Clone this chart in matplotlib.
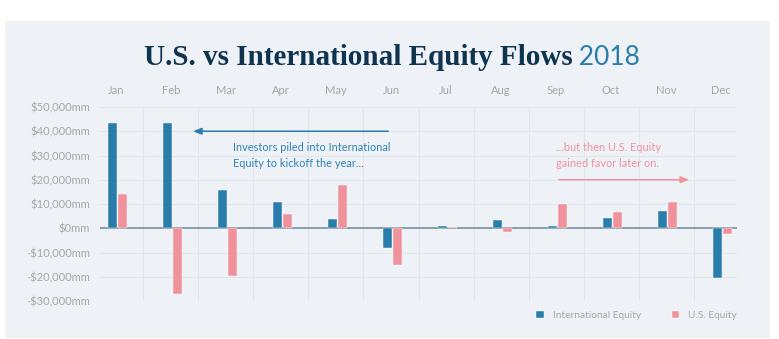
import matplotlib
matplotlib.use("Agg")
import matplotlib.pyplot as plt
import numpy as np
from matplotlib.patches import Rectangle

# Monthly net flows, $mm
months = ["Jan", "Feb", "Mar", "Apr", "May", "Jun", "Jul", "Aug", "Sep", "Oct", "Nov", "Dec"]
intl_equity = [43300, 43300, 15700, 10700, 3700, -8000, 800, 3200, 1000, 4300, 7300, -20600]
us_equity = [14300, -27200, -19500, 5900, 17700, -15000, 700, -1400, 9800, 6600, 10700, -2300]
y_ticks = [50000, 40000, 30000, 20000, 10000, 0, -10000, -20000, -30000]

BLUE = "#2a7dab"
PINK = "#f0929c"
NAVY = "#0f3450"
GRAY = "#a3a7ac"
PANEL = "#eef2f7"
GRID = "#e1e6ec"

fig = plt.figure(figsize=(7.79, 3.39), dpi=100, facecolor="white")
fig.patches.append(Rectangle((5 / 779, 1 / 339), 765 / 779, 317 / 339,
                             transform=fig.transFigure, facecolor=PANEL,
                             edgecolor="none", zorder=-5))

ax = fig.add_axes([100 / 779, 38 / 339, 637 / 779, 194 / 339])
ax.set_facecolor("none")

x = np.arange(len(months))
w = 0.165
ax.bar(x - 0.06, intl_equity, w, color=BLUE, edgecolor="white", linewidth=0.3,
       label="International Equity", zorder=3)
ax.bar(x + 0.12, us_equity, w, color=PINK, edgecolor="white", linewidth=0.3,
       label="U.S. Equity", zorder=3)

ax.set_xlim(-0.29, 11.29)
ax.set_ylim(-30000, 50000)

# grid
for t in y_ticks:
    if t != 0:
        ax.axhline(t, color=GRID, lw=0.8, zorder=1)
for b in x[:-1] + 0.5:
    ax.axvline(b, color=GRID, lw=0.8, zorder=1)
ax.axhline(0, color="#7f97a8", lw=1.3, zorder=2)

for s in ax.spines.values():
    s.set_visible(False)

ax.xaxis.tick_top()
ax.set_xticks(x)
ax.set_xticklabels(months)
ax.set_yticks(y_ticks)
ax.set_yticklabels([("-" if v < 0 else "") + "${:,}mm".format(abs(v)) for v in y_ticks])
ax.tick_params(axis="both", length=0, colors=GRAY, labelsize=8)
ax.tick_params(axis="x", pad=8)
ax.tick_params(axis="y", pad=7)
for lab in ax.get_xticklabels() + ax.get_yticklabels():
    lab.set_family("Lato")

# annotations
ax.annotate("", xy=(1.35, 40000), xytext=(5.0, 40000),
            arrowprops=dict(arrowstyle="-|>,head_length=0.5,head_width=0.2",
                            color=BLUE, lw=1.1), zorder=5)
ax.text(2.12, 25200, "Investors piled into International\nEquity to kickoff the year...",
        color="#2d84b5", fontsize=7.9, family="Lato", va="baseline", ha="left",
        linespacing=1.6)
ax.text(8.0, 25200, "...but then U.S. Equity\ngained favor later on.",
        color=PINK, fontsize=7.9, family="Lato", va="baseline", ha="left", linespacing=1.6)
ax.annotate("", xy=(10.47, 20000), xytext=(8.0, 20000),
            arrowprops=dict(arrowstyle="-|>,head_length=0.5,head_width=0.2",
                            color=PINK, lw=1.1), zorder=5)

leg = ax.legend(loc="upper right", bbox_to_anchor=(1.0, -0.05), ncol=2, frameon=False,
                handlelength=0.75, handleheight=0.75, handletextpad=0.9, columnspacing=3.0,
                borderaxespad=0, borderpad=0, prop={"family": "Lato", "size": 7.3})
for t in leg.get_texts():
    t.set_color(GRAY)

# title in two parts
title_y = 1 - 65 / 339
t1 = fig.text(0.5, title_y, "U.S. vs International Equity Flows", fontsize=21,
              family="Liberation Serif", weight="bold", color=NAVY, va="baseline", ha="left")
t2 = fig.text(0.5, title_y, " 2018", fontsize=19, family="Lato", color=BLUE,
              va="baseline", ha="left")
fig.canvas.draw()
r = fig.canvas.get_renderer()
w1 = t1.get_window_extent(r).width
w2 = t2.get_window_extent(r).width
left = (392 - (w1 + w2) / 2) / 779
t1.set_x(left)
t2.set_x(left + w1 / 779)

fig.savefig("out.png", dpi=100, facecolor="white")
